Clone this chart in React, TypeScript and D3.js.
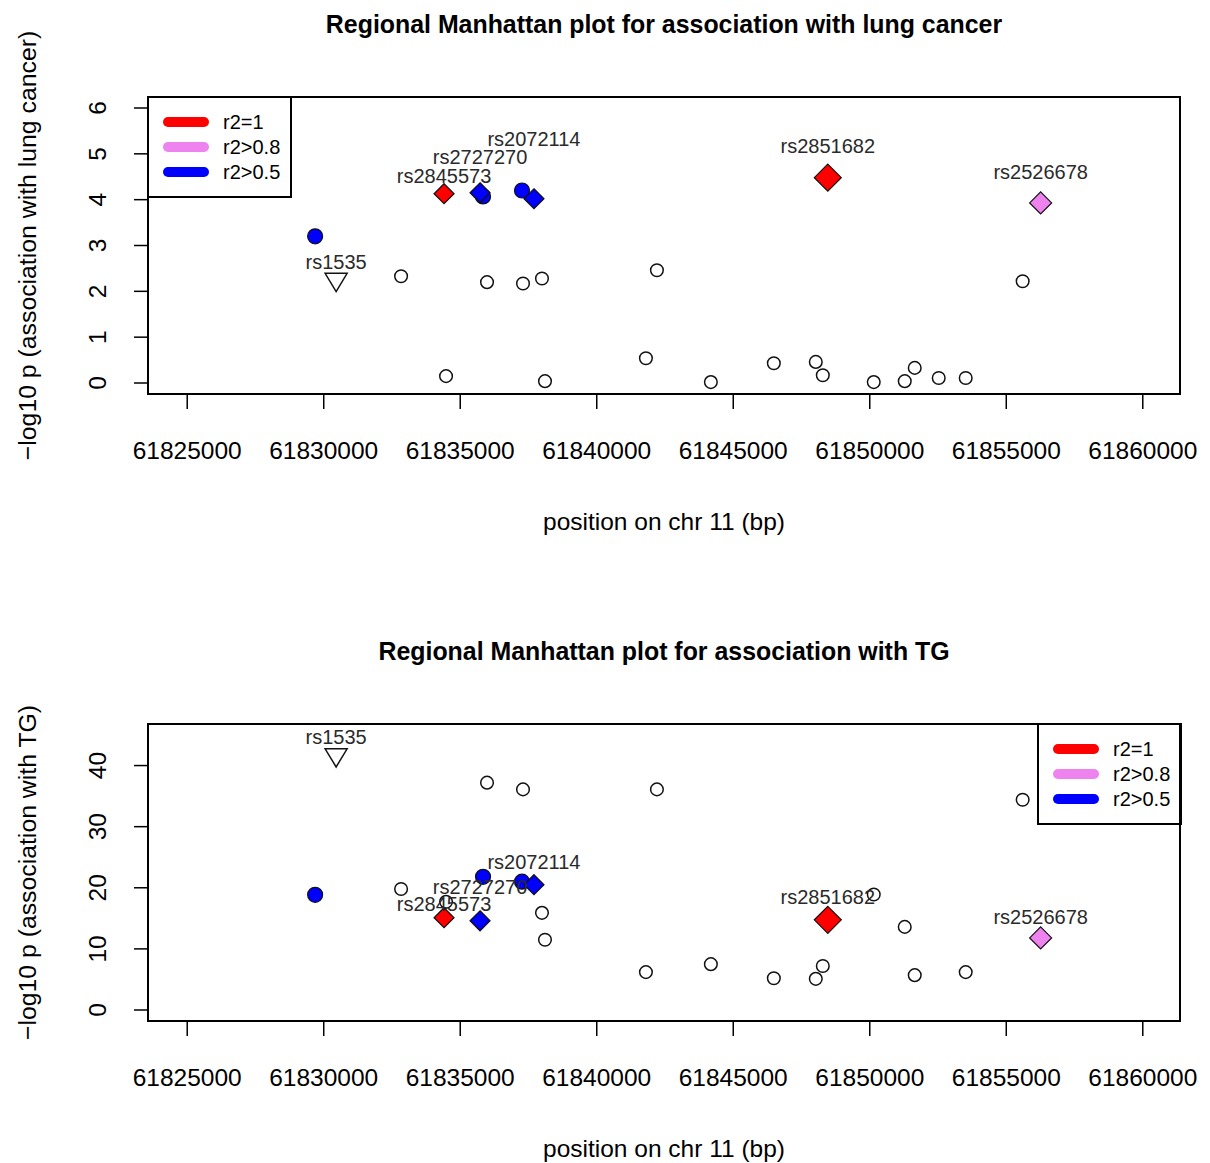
import React, { useEffect, useRef } from 'react';
import * as d3 from 'd3';

const FONT = "'Liberation Sans', Arial, Helvetica, sans-serif";

// SNPs in the region (chr 11)
const snpNames = [
  'rs1535', 'snp02', 'snp03', 'rs2845573', 'snp05', 'rs2727270', 'snp07', 'snp08', 'snp09',
  'snp10', 'rs2072114', 'snp12', 'snp13', 'snp14', 'snp15', 'snp16', 'snp17', 'snp18',
  'snp19', 'rs2851682', 'snp21', 'snp22', 'snp23', 'snp24', 'snp25', 'snp26', 'rs2526678',
];
const snpPositions = [
  61830454, 61829685, 61832833, 61834407, 61834480, 61835725, 61835835, 61835981, 61837262,
  61837299, 61837701, 61837994, 61838104, 61841801, 61842204, 61844180, 61846486, 61848023,
  61848280, 61848463, 61850146, 61851281, 61851647, 61852526, 61853514, 61855600, 61856259,
];
const lungCancerLogP = [
  2.20, 3.20, 2.33, 4.13, 0.15, 4.15, 4.07, 2.20, 4.20,
  2.17, 4.02, 2.28, 0.04, 0.54, 2.46, 0.02, 0.43, 0.46,
  0.17, 4.48, 0.02, 0.04, 0.33, 0.11, 0.11, 2.22, 3.93,
];
const tgLogP = [
  41.3, 18.85, 19.8, 15.1, 17.7, 14.6, 21.8, 37.2, 21.0,
  36.1, 20.5, 15.9, 11.5, 6.2, 36.1, 7.5, 5.2, 5.1,
  7.2, 14.75, 18.9, 13.6, 5.7, NaN, 6.2, 34.4, 11.8,
];
// LD class ('' = not in LD) and marker shape
const ldClass = [
  '', 'r2>0.5', '', 'r2=1', '', 'r2>0.5', 'r2>0.5', '', 'r2>0.5',
  '', 'r2>0.5', '', '', '', '', '', '', '',
  '', 'r2=1', '', '', '', '', '', '', 'r2>0.8',
];
const markShape = [
  'triangle', 'circle', 'circle', 'diamond', 'circle', 'diamond', 'circle', 'circle', 'circle',
  'circle', 'diamond', 'circle', 'circle', 'circle', 'circle', 'circle', 'circle', 'circle',
  'circle', 'diamond', 'circle', 'circle', 'circle', 'circle', 'circle', 'circle', 'diamond',
];
const leadSnp = 'rs2851682';

// text labels and their heights (in -log10 p units)
const labelledSnps = ['rs1535', 'rs2845573', 'rs2727270', 'rs2072114', 'rs2851682', 'rs2526678'];
const lungLabelY = [2.65, 4.52, 4.93, 5.33, 5.17, 4.61];
const tgLabelY = [44.6, 17.4, 20.2, 24.3, 18.5, 15.2];

const legendLabels = ['r2=1', 'r2>0.8', 'r2>0.5'];
const legendColors = ['#FF0000', '#EE82EE', '#0000FF'];

const xLim = [61825000, 61860000];
const xTicks = [61825000, 61830000, 61835000, 61840000, 61845000, 61850000, 61855000, 61860000];
const lungYLim = [0, 6];
const lungYTicks = [0, 1, 2, 3, 4, 5, 6];
const tgYLim = [0, 45];
const tgYTicks = [0, 10, 20, 30, 40];

const colorOf = (cls: string) => legendColors[legendLabels.indexOf(cls)] || 'white';

const padLim = (lim: number[]) => {
  const d = (lim[1] - lim[0]) * 0.04;
  return [lim[0] - d, lim[1] + d];
};

function shapePath(shape: string, cx: number, cy: number, s: number) {
  if (shape === 'diamond') return `M${cx},${cy - s}L${cx + s},${cy}L${cx},${cy + s}L${cx - s},${cy}Z`;
  if (shape === 'triangle') return `M${cx - s},${cy - s * 0.8}L${cx + s},${cy - s * 0.8}L${cx},${cy + s * 0.85}Z`;
  return d3.arc()({ innerRadius: 0, outerRadius: s, startAngle: 0, endAngle: 2 * Math.PI }) as string;
}

function drawPanel(svg: any, cfg: any) {
  const { top, values, yLim, yTicks, title, yLabel, labelY, legendRight } = cfg;
  const left = 149, right = 1181, bottom = top + 297;

  const x = d3.scaleLinear().domain(padLim(xLim)).range([left, right]);
  const y = d3.scaleLinear().domain(padLim(yLim)).range([bottom, top]);
  const g = svg.append('g').attr('font-family', FONT);

  // title
  g.append('text')
    .attr('x', 664).attr('y', top - 64)
    .attr('text-anchor', 'middle').attr('font-size', 24.9).attr('font-weight', 'bold')
    .text(title);

  // x axis
  const xa = g.append('g');
  xa.selectAll('line').data(xTicks).enter().append('line')
    .attr('x1', (d: number) => x(d)).attr('x2', (d: number) => x(d))
    .attr('y1', bottom).attr('y2', bottom + 15)
    .attr('stroke', 'black').attr('stroke-width', 1.5);
  xa.selectAll('text').data(xTicks).enter().append('text')
    .attr('x', (d: number) => x(d)).attr('y', bottom + 65)
    .attr('text-anchor', 'middle').attr('font-size', 24.5)
    .text((d: number) => d3.format('d')(d));
  g.append('text')
    .attr('x', 664).attr('y', bottom + 136)
    .attr('text-anchor', 'middle').attr('font-size', 24.5)
    .text('position on chr 11 (bp)');

  // y axis
  const ya = g.append('g');
  ya.selectAll('line').data(yTicks).enter().append('line')
    .attr('x1', left - 15).attr('x2', left)
    .attr('y1', (d: number) => y(d)).attr('y2', (d: number) => y(d))
    .attr('stroke', 'black').attr('stroke-width', 1.5);
  ya.selectAll('text').data(yTicks).enter().append('text')
    .attr('transform', (d: number) => `translate(105.5,${y(d)}) rotate(-90)`)
    .attr('text-anchor', 'middle').attr('font-size', 24.5)
    .text((d: number) => d);
  g.append('text')
    .attr('transform', `translate(36,${(top + bottom) / 2}) rotate(-90)`)
    .attr('text-anchor', 'middle').attr('font-size', 24.8)
    .text(yLabel);

  // points: open circles first, then coloured markers, diamonds on top
  const rank = (i: number) => (markShape[i] === 'diamond' ? 3 : ldClass[i] ? 2 : markShape[i] === 'triangle' ? 1 : 0);
  const idx = d3.range(snpNames.length).filter(i => isFinite(values[i])).sort((a, b) => rank(a) - rank(b));
  g.append('g').selectAll('path').data(idx).enter().append('path')
    .attr('d', (i: number) => {
      const shape = markShape[i];
      let s = 6.3;
      if (shape === 'circle' && ldClass[i]) s = 7.5;
      if (shape === 'triangle') s = 11;
      if (shape === 'diamond') s = snpNames[i] === leadSnp ? 13.5 : ldClass[i] === 'r2>0.8' ? 11 : 10;
      return shapePath(shape, shape === 'circle' ? 0 : x(snpPositions[i]), shape === 'circle' ? 0 : y(values[i]), s);
    })
    .attr('transform', (i: number) => (markShape[i] === 'circle' ? `translate(${x(snpPositions[i])},${y(values[i])})` : null))
    .attr('fill', (i: number) => colorOf(ldClass[i]))
    .attr('stroke', '#111')
    .attr('stroke-width', (i: number) => (ldClass[i] ? 1.2 : 1.5));

  // SNP labels
  g.append('g').selectAll('text').data(labelledSnps).enter().append('text')
    .attr('x', (d: string) => x(snpPositions[snpNames.indexOf(d)]))
    .attr('y', (d: string, k: number) => y(labelY[k]))
    .attr('dy', '0.35em')
    .attr('text-anchor', 'middle').attr('font-size', 20).attr('fill', '#2a2a2a')
    .text((d: string) => d);

  // legend
  const lw = 143, lh = 100;
  const lx = legendRight ? right - lw : left - 1;
  const lg = g.append('g');
  lg.append('rect').attr('x', lx).attr('y', top).attr('width', lw).attr('height', lh)
    .attr('fill', 'white').attr('stroke', 'black').attr('stroke-width', 2);
  legendLabels.forEach((lab, k) => {
    const ry = top + 25 + k * 25;
    lg.append('line').attr('x1', lx + 20).attr('x2', lx + 56).attr('y1', ry).attr('y2', ry)
      .attr('stroke', legendColors[k]).attr('stroke-width', 10).attr('stroke-linecap', 'round');
    lg.append('text').attr('x', lx + 75).attr('y', ry + 7).attr('font-size', 20).text(lab);
  });

  // box
  g.append('rect').attr('x', left - 1).attr('y', top).attr('width', right - left).attr('height', bottom - top)
    .attr('fill', 'none').attr('stroke', 'black').attr('stroke-width', 2);
}

const App = () => {
  const ref = useRef<SVGSVGElement>(null);

  useEffect(() => {
    const svg = d3.select(ref.current);
    svg.selectAll('*').remove();
    drawPanel(svg, {
      top: 97, values: lungCancerLogP, yLim: lungYLim, yTicks: lungYTicks, labelY: lungLabelY,
      title: 'Regional Manhattan plot for association with lung cancer',
      yLabel: '\u2212log10 p (association with lung cancer)', legendRight: false,
    });
    drawPanel(svg, {
      top: 724, values: tgLogP, yLim: tgYLim, yTicks: tgYTicks, labelY: tgLabelY,
      title: 'Regional Manhattan plot for association with TG',
      yLabel: '\u2212log10 p (association with TG)', legendRight: true,
    });
  }, []);

  return (
    <svg ref={ref} width={1210} height={1163}
      style={{ position: 'absolute', left: 0, top: 0, background: 'white' }} />
  );
};

export default App;
